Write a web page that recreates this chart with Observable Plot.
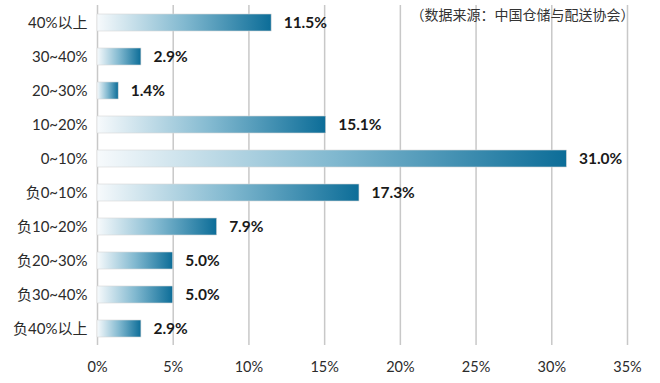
<!DOCTYPE html>
<html>
<head>
<meta charset="utf-8">
<script src="https://cdn.jsdelivr.net/npm/d3@7"></script>
<script src="https://cdn.jsdelivr.net/npm/@observablehq/plot@0.6"></script>
<style>
  html, body { margin: 0; padding: 0; background: #fff; }
  #chart svg { display: block; }
  #chart svg g[aria-label="y-axis tick label"] text { font-size: 15px; }
</style>
</head>
<body>
<div id="chart"></div>
<script>
const categories = ["40%以上", "30~40%", "20~30%", "10~20%", "0~10%", "负0~10%", "负10~20%", "负20~30%", "负30~40%", "负40%以上"];
const values = [11.5, 2.9, 1.4, 15.1, 31.0, 17.3, 7.9, 5.0, 5.0, 2.9];
const xTicks = [0, 5, 10, 15, 20, 25, 30, 35];
const sourceNote = "（数据来源：中国仓储与配送协会）";

const data = categories.map((c, i) => ({cat: c, value: values[i]}));

const fontLatin = "Lato, 'Noto Sans CJK SC', sans-serif";

const gradientDefs = () => {
  const defs = d3.create("svg:defs");
  const g = defs.append("linearGradient")
    .attr("id", "barGrad")
    .attr("x1", "0").attr("y1", "0").attr("x2", "1").attr("y2", "0");
  g.append("stop").attr("offset", "0%").attr("stop-color", "#f7fafc");
  g.append("stop").attr("offset", "50%").attr("stop-color", "#82b9d0");
  g.append("stop").attr("offset", "100%").attr("stop-color", "#0c6d98");
  return defs.node();
};

const chart = Plot.plot({
  width: 660,
  height: 383,
  marginLeft: 97,
  marginRight: 33,
  marginTop: 5,
  marginBottom: 38,
  style: {fontFamily: fontLatin, fontSize: "14.5px", color: "#2b2b2b", background: "#fff"},
  x: {domain: [0, 35], ticks: xTicks, tickFormat: d => d + "%", tickSize: 0, tickPadding: 16, label: null},
  y: {domain: categories, paddingInner: 0.5, paddingOuter: 0.25, tickSize: 0, tickPadding: 10, label: null},
  marks: [
    gradientDefs,
    Plot.ruleX(xTicks, {stroke: "#c8c8c8", strokeWidth: 1.5}),
    Plot.barX(data, {x: "value", y: "cat", fill: "url(#barGrad)", stroke: "#d6d6d6", strokeWidth: 0.6}),
    Plot.text(data, {x: "value", y: "cat", text: d => d.value.toFixed(1) + "%", textAnchor: "start", dx: 12,
      fontWeight: "bold", fontSize: 15.5, fill: "#1a1a1a"}),
    Plot.text([sourceNote], {frameAnchor: "top-right", text: d => d, textAnchor: "end", lineAnchor: "top", dy: 5, dx: 7,
      fontSize: 14, fill: "#333", fontFamily: "'Noto Sans CJK SC', sans-serif"})
  ]
});

document.getElementById("chart").appendChild(chart);
</script>
</body>
</html>
